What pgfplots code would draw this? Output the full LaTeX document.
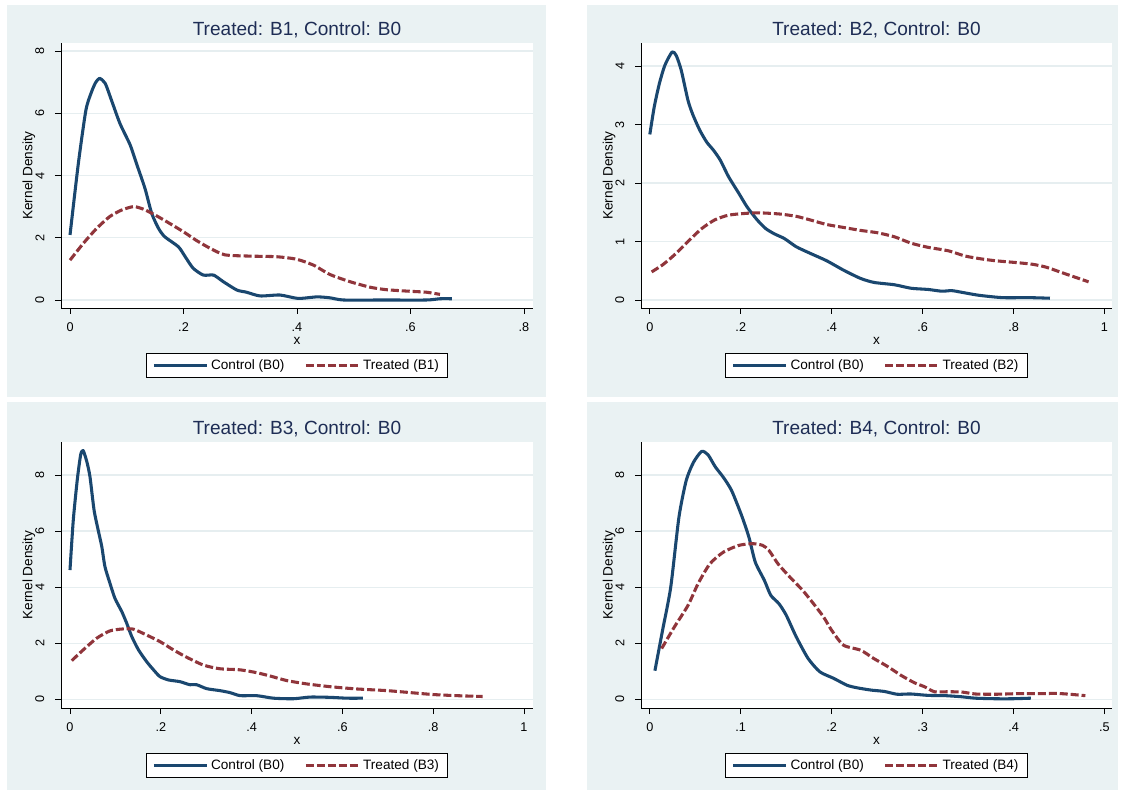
\documentclass[border=0pt]{standalone}
\usepackage{pgfplots}
\pgfplotsset{compat=1.18}
\usepackage{fontspec}
\setmainfont{Liberation Sans}
\definecolor{bgc}{RGB}{234,242,243}
\definecolor{gridc}{RGB}{230,238,240}
\definecolor{cnavy}{RGB}{26,71,111}
\definecolor{cmaroon}{RGB}{144,53,59}
\definecolor{ctitle}{RGB}{30,45,85}
\pgfplotsset{
  panel/.style={
    scale only axis,
    axis lines=left,
    axis line style={-, black, line width=0.6pt},
    axis background/.style={fill=white},
    tick align=outside,
    major tick length=4.5pt,
    tick style={black, line width=0.6pt},
    ymajorgrids,
    grid style={gridc, line width=0.9pt},
    xticklabel style={font=\fontsize{9.5}{11}\selectfont, yshift=-3pt},
    yticklabel style={font=\fontsize{9.5}{11}\selectfont, xshift=-4.5pt, rotate=90, anchor=south},
    xlabel={x},
    ylabel={Kernel Density},
    label style={font=\fontsize{10.2}{12}\selectfont},
    xlabel style={at={(axis description cs:0.5,-0.125)}, anchor=center},
    ylabel style={at={(axis description cs:-0.0680,0.5)}, anchor=center},
    every axis title shift=0pt,
    title style={at={(axis description cs:0.5,1.049)}, anchor=center, font=\fontsize{14.3}{16}\selectfont, text=ctitle},
    legend columns=2,
    legend style={at={(axis description cs:0.5,-0.170)}, anchor=north, draw=black, line width=0.6pt, fill=white,
      font=\fontsize{10.2}{12}\selectfont, inner xsep=4.5pt, inner ysep=2.5pt,
      nodes={inner sep=2pt},
      /tikz/every even column/.append style={column sep=13pt}},
    legend image code/.code={\draw[#1] (0pt,0pt) -- (39.75pt,0pt);},
    ctrl/.style={cnavy, line width=2.3pt, line join=round, smooth, tension=0.4},
    trt/.style={cmaroon, line width=2.3pt, line join=round, dash pattern=on 6pt off 2.2pt, smooth, tension=0.4},
  }
}
\begin{document}
\begin{tikzpicture}
\useasboundingbox[fill=white] (0pt,0pt) rectangle (842.25pt,594pt);
\fill[bgc] (5.25pt,296.25pt) rectangle (409.5pt,590.25pt);
\fill[bgc] (440.25pt,296.25pt) rectangle (838.5pt,590.25pt);
\fill[bgc] (5.25pt,1.5pt) rectangle (409.5pt,292.5pt);
\fill[bgc] (440.25pt,1.5pt) rectangle (838.5pt,292.5pt);

% Panel 1
\begin{axis}[panel, at={(45.75pt,363pt)}, anchor=south west, width=354pt, height=198.75pt,
  xmin=-0.0159, xmax=0.8159, ymin=-0.257, ymax=8.256,
  xtick={0,0.2,0.4,0.6,0.8}, xticklabels={0,.2,.4,.6,.8},
  ytick={0,2,4,6,8}, yticklabels={0,2,4,6,8},
  title={Treated: B1, Control: B0}]
\addplot[ctrl] coordinates {(0,2.09) (0.0147,4.39) (0.028,6.10) (0.038,6.69) (0.045,6.98) (0.052,7.12) (0.062,6.96) (0.073,6.42) (0.088,5.67) (0.106,4.98) (0.117,4.39) (0.132,3.59) (0.144,2.78) (0.156,2.30) (0.167,2.03) (0.191,1.71) (0.203,1.39) (0.217,1.02) (0.235,0.80) (0.253,0.80) (0.270,0.59) (0.294,0.32) (0.311,0.25) (0.335,0.13) (0.370,0.16) (0.402,0.05) (0.435,0.10) (0.458,0.07) (0.482,0.0) (0.552,0.0) (0.628,0.0) (0.652,0.04) (0.673,0.04)};
\addlegendentry{Control (B0)}
\addplot[trt] coordinates {(0,1.28) (0.0235,1.82) (0.047,2.30) (0.070,2.68) (0.091,2.89) (0.112,3.00) (0.129,2.92) (0.147,2.76) (0.170,2.52) (0.200,2.19) (0.223,1.91) (0.247,1.66) (0.273,1.45) (0.317,1.41) (0.364,1.39) (0.399,1.31) (0.429,1.12) (0.458,0.82) (0.493,0.59) (0.529,0.41) (0.558,0.33) (0.599,0.28) (0.628,0.25) (0.652,0.18)};
\addlegendentry{Treated (B1)}
\end{axis}

% Panel 2
\begin{axis}[panel, at={(480.75pt,363pt)}, anchor=south west, width=353.25pt, height=198.75pt,
  xmin=-0.0194, xmax=1.0165, ymin=-0.137, ymax=4.393,
  xtick={0,0.2,0.4,0.6,0.8,1}, xticklabels={0,.2,.4,.6,.8,1},
  ytick={0,1,2,3,4}, yticklabels={0,1,2,3,4},
  title={Treated: B2, Control: B0}]
\addplot[ctrl] coordinates {(0,2.83) (0.0097,3.30) (0.021,3.70) (0.033,4.01) (0.049,4.24) (0.058,4.18) (0.069,3.93) (0.084,3.41) (0.095,3.16) (0.110,2.90) (0.125,2.70) (0.140,2.56) (0.155,2.39) (0.173,2.11) (0.196,1.82) (0.214,1.59) (0.236,1.37) (0.255,1.22) (0.274,1.13) (0.296,1.05) (0.322,0.91) (0.352,0.80) (0.389,0.67) (0.426,0.51) (0.463,0.37) (0.493,0.30) (0.538,0.26) (0.575,0.20) (0.612,0.18) (0.642,0.15) (0.664,0.16) (0.687,0.13) (0.724,0.08) (0.776,0.04) (0.835,0.04) (0.880,0.03)};
\addlegendentry{Control (B0)}
\addplot[trt] coordinates {(0.004,0.48) (0.028,0.60) (0.054,0.77) (0.084,1.00) (0.114,1.22) (0.143,1.37) (0.173,1.45) (0.210,1.48) (0.240,1.49) (0.285,1.47) (0.322,1.43) (0.352,1.37) (0.389,1.29) (0.426,1.24) (0.463,1.19) (0.500,1.15) (0.538,1.08) (0.575,0.97) (0.612,0.90) (0.657,0.84) (0.694,0.75) (0.731,0.70) (0.761,0.67) (0.805,0.64) (0.842,0.61) (0.872,0.56) (0.909,0.46) (0.939,0.38) (0.965,0.31)};
\addlegendentry{Treated (B2)}
\end{axis}

% Panel 3
\begin{axis}[panel, at={(45.75pt,63pt)}, anchor=south west, width=354pt, height=199.5pt,
  xmin=-0.0198, xmax=1.0198, ymin=-0.310, ymax=9.176,
  xtick={0,0.2,0.4,0.6,0.8,1}, xticklabels={0,.2,.4,.6,.8,1},
  ytick={0,2,4,6,8}, yticklabels={0,2,4,6,8},
  title={Treated: B3, Control: B0}]
\addplot[ctrl] coordinates {(0,4.61) (0.0073,6.40) (0.016,7.82) (0.0235,8.72) (0.029,8.87) (0.037,8.48) (0.044,7.94) (0.053,6.75) (0.062,6.04) (0.070,5.45) (0.077,4.73) (0.088,4.14) (0.099,3.60) (0.114,3.13) (0.125,2.71) (0.136,2.24) (0.151,1.76) (0.169,1.34) (0.184,1.05) (0.198,0.81) (0.217,0.69) (0.242,0.63) (0.264,0.52) (0.279,0.52) (0.301,0.38) (0.330,0.31) (0.352,0.24) (0.375,0.13) (0.411,0.13) (0.448,0.04) (0.492,0.02) (0.529,0.08) (0.573,0.07) (0.610,0.04) (0.645,0.04)};
\addlegendentry{Control (B0)}
\addplot[trt] coordinates {(0.004,1.38) (0.029,1.76) (0.059,2.18) (0.088,2.44) (0.117,2.51) (0.140,2.50) (0.169,2.29) (0.198,2.06) (0.228,1.76) (0.257,1.50) (0.294,1.22) (0.330,1.09) (0.375,1.05) (0.411,0.95) (0.441,0.83) (0.477,0.67) (0.521,0.55) (0.573,0.45) (0.631,0.37) (0.698,0.31) (0.742,0.25) (0.800,0.17) (0.852,0.13) (0.909,0.10)};
\addlegendentry{Treated (B3)}
\end{axis}

% Panel 4
\begin{axis}[panel, at={(480.75pt,63pt)}, anchor=south west, width=353.25pt, height=199.5pt,
  xmin=-0.0097, xmax=0.5083, ymin=-0.310, ymax=9.176,
  xtick={0,0.1,0.2,0.3,0.4,0.5}, xticklabels={0,.1,.2,.3,.4,.5},
  ytick={0,2,4,6,8}, yticklabels={0,2,4,6,8},
  title={Treated: B4, Control: B0}]
\addplot[ctrl] coordinates {(0.0056,1.02) (0.014,2.46) (0.023,4.00) (0.032,6.49) (0.040,7.80) (0.048,8.45) (0.057,8.84) (0.064,8.72) (0.072,8.29) (0.081,7.91) (0.090,7.44) (0.101,6.55) (0.109,5.78) (0.116,4.89) (0.126,4.24) (0.133,3.71) (0.142,3.41) (0.150,3.00) (0.161,2.23) (0.174,1.46) (0.187,0.98) (0.202,0.75) (0.217,0.50) (0.228,0.41) (0.243,0.33) (0.258,0.28) (0.272,0.18) (0.287,0.19) (0.306,0.14) (0.325,0.13) (0.343,0.09) (0.358,0.04) (0.380,0.02) (0.399,0.02) (0.419,0.04)};
\addlegendentry{Control (B0)}
\addplot[trt] coordinates {(0.013,1.81) (0.027,2.58) (0.042,3.35) (0.053,4.12) (0.066,4.83) (0.081,5.25) (0.098,5.49) (0.113,5.55) (0.124,5.49) (0.131,5.31) (0.141,4.83) (0.154,4.36) (0.168,3.89) (0.180,3.41) (0.191,2.94) (0.200,2.46) (0.213,1.93) (0.232,1.75) (0.246,1.46) (0.261,1.18) (0.276,0.86) (0.291,0.59) (0.302,0.45) (0.313,0.27) (0.328,0.27) (0.343,0.26) (0.358,0.19) (0.380,0.18) (0.403,0.20) (0.425,0.20) (0.447,0.21) (0.462,0.18) (0.479,0.13)};
\addlegendentry{Treated (B4)}
\end{axis}
\end{tikzpicture}
\end{document}
